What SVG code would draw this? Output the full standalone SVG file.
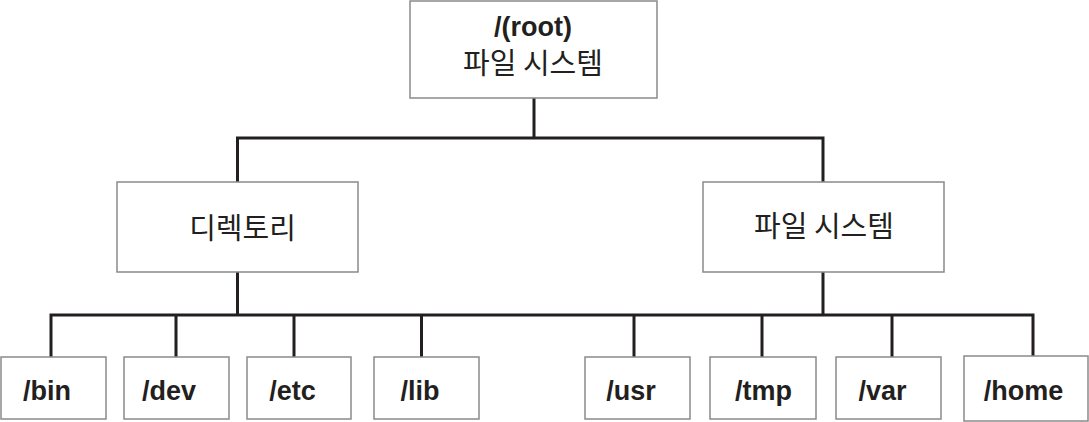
<svg xmlns="http://www.w3.org/2000/svg" width="1089" height="422" viewBox="0 0 1089 422">
<style>
.box{fill:#fff;stroke:#8a8a8a;stroke-width:1.5}
.ln{fill:none;stroke:#231f20;stroke-width:3;stroke-linecap:butt;stroke-linejoin:miter}
.en{font-family:"Liberation Sans",Arial,sans-serif;font-weight:bold;font-size:27px;fill:#231f20;text-anchor:middle}
.ko{font-family:"Noto Sans CJK KR","Noto Sans",sans-serif;font-size:29px;fill:#231f20;text-anchor:middle}
</style>
<rect width="1089" height="422" fill="#fff"/>
<g id="connectors">
<path class="ln" d="M534,98 V138 M237.5,182 V138 H823 V182"/>
<path class="ln" d="M237.5,272 V315 M823,272 V315 M51,357 V315 H1033 V357 M176,315 V357 M294,315 V357 M421.5,315 V357 M634,315 V357 M762,315 V357 M892,315 V357"/>
</g>
<g id="root"><rect class="box" x="410" y="1" width="247" height="97"/><text class="en" x="533" y="36">/(root)</text><text class="ko" x="533" y="74">파일 시스템</text></g>
<g id="dir"><rect class="box" x="117" y="182" width="241" height="90"/><text class="ko" x="242.5" y="239">디렉토리</text></g>
<g id="fs"><rect class="box" x="703" y="182" width="241" height="90"/><text class="ko" x="824" y="237">파일 시스템</text></g>
<g id="bin"><rect class="box" x="1" y="357" width="105" height="62"/><text class="en" x="47" y="400">/bin</text></g>
<g id="dev"><rect class="box" x="124" y="357" width="105" height="62"/><text class="en" x="169" y="400">/dev</text></g>
<g id="etc"><rect class="box" x="247" y="357" width="104" height="62"/><text class="en" x="292.5" y="400">/etc</text></g>
<g id="lib"><rect class="box" x="374" y="357" width="105" height="62"/><text class="en" x="420" y="400">/lib</text></g>
<g id="usr"><rect class="box" x="585" y="357" width="105" height="62"/><text class="en" x="631" y="400">/usr</text></g>
<g id="tmp"><rect class="box" x="710" y="357" width="106" height="62"/><text class="en" x="763.5" y="400">/tmp</text></g>
<g id="var"><rect class="box" x="836" y="357" width="105" height="62"/><text class="en" x="882.5" y="400">/var</text></g>
<g id="home"><rect class="box" x="964" y="356" width="124" height="65"/><text class="en" x="1023.5" y="400">/home</text></g>
</svg>
